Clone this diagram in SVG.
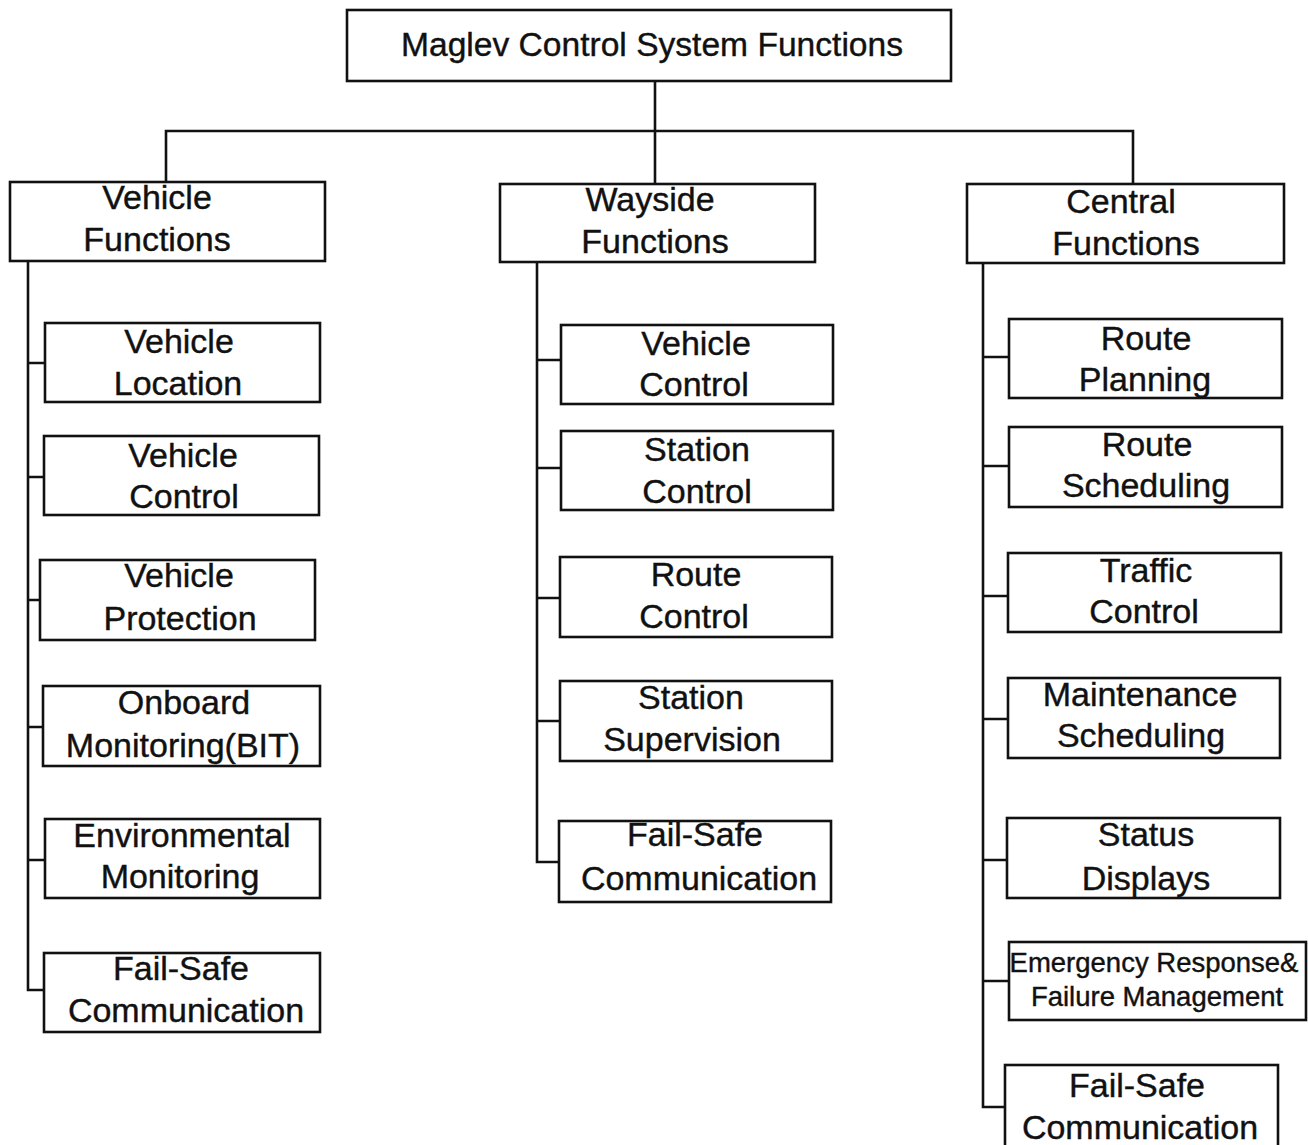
<svg xmlns="http://www.w3.org/2000/svg" width="1308" height="1145" viewBox="0 0 1308 1145">
  <style>
    .box { fill: #ffffff; stroke: #111111; stroke-width: 2.6; }
    .wire { fill: none; stroke: #111111; stroke-width: 2.6; }
    .lbl { font-family: "Liberation Sans", Arial, Helvetica, sans-serif; font-size: 34px; fill: #111111; stroke: #111111; stroke-width: 0.4; text-anchor: middle; }
    .title { font-size: 33.6px; }
    .small { font-size: 27.5px; }
  </style>
  <rect width="1308" height="1145" fill="#ffffff"/>

  <!-- connectors -->
  <g id="connectors">
    <!-- root to the three function groups -->
    <path class="wire" d="M655,81 V184 M166,182 V131 H1133 V184"/>
    <!-- vehicle column spine and stubs -->
    <path class="wire" d="M28,261 V990 H44 M28,363 H45 M28,477 H44 M28,600 H40 M28,727 H43 M28,860 H45"/>
    <!-- wayside column spine and stubs -->
    <path class="wire" d="M537,262 V862 H559 M537,360 H561 M537,468 H561 M537,598 H560 M537,721 H560"/>
    <!-- central column spine and stubs -->
    <path class="wire" d="M983,263 V1107 H1005 M983,357 H1009 M983,466 H1009 M983,596 H1008 M983,719 H1008 M983,860 H1007 M983,981 H1009"/>
  </g>

  <!-- root -->
  <g id="root">
    <rect class="box" x="347" y="10" width="604" height="71"/>
    <text class="lbl title" x="652" y="56">Maglev Control System Functions</text>
  </g>

  <!-- first level -->
  <g id="vehicle-functions">
    <rect class="box" x="10" y="182" width="315" height="79"/>
    <text class="lbl" x="157" y="209">Vehicle</text>
    <text class="lbl" x="157" y="251">Functions</text>
  </g>
  <g id="wayside-functions">
    <rect class="box" x="500" y="184" width="315" height="78"/>
    <text class="lbl" x="650" y="211">Wayside</text>
    <text class="lbl" x="655" y="253">Functions</text>
  </g>
  <g id="central-functions">
    <rect class="box" x="967" y="184" width="317" height="79"/>
    <text class="lbl" x="1121" y="213">Central</text>
    <text class="lbl" x="1126" y="255">Functions</text>
  </g>

  <!-- vehicle functions -->
  <g id="v-location">
    <rect class="box" x="45" y="323" width="275" height="79"/>
    <text class="lbl" x="179" y="353">Vehicle</text>
    <text class="lbl" x="178" y="395">Location</text>
  </g>
  <g id="v-control">
    <rect class="box" x="44" y="436" width="275" height="79"/>
    <text class="lbl" x="183" y="467">Vehicle</text>
    <text class="lbl" x="184" y="508">Control</text>
  </g>
  <g id="v-protection">
    <rect class="box" x="40" y="560" width="275" height="80"/>
    <text class="lbl" x="179" y="587">Vehicle</text>
    <text class="lbl" x="180" y="630">Protection</text>
  </g>
  <g id="v-onboard">
    <rect class="box" x="43" y="686" width="277" height="80"/>
    <text class="lbl" x="184" y="714">Onboard</text>
    <text class="lbl" x="183" y="757">Monitoring(BIT)</text>
  </g>
  <g id="v-environmental">
    <rect class="box" x="45" y="819" width="275" height="79"/>
    <text class="lbl" x="182" y="847">Environmental</text>
    <text class="lbl" x="180" y="888">Monitoring</text>
  </g>
  <g id="v-failsafe">
    <rect class="box" x="44" y="953" width="276" height="79"/>
    <text class="lbl" x="181" y="980">Fail-Safe</text>
    <text class="lbl" x="186" y="1022">Communication</text>
  </g>

  <!-- wayside functions -->
  <g id="w-vehicle-control">
    <rect class="box" x="561" y="325" width="272" height="79"/>
    <text class="lbl" x="696" y="355">Vehicle</text>
    <text class="lbl" x="694" y="396">Control</text>
  </g>
  <g id="w-station-control">
    <rect class="box" x="561" y="431" width="272" height="79"/>
    <text class="lbl" x="697" y="461">Station</text>
    <text class="lbl" x="697" y="503">Control</text>
  </g>
  <g id="w-route-control">
    <rect class="box" x="560" y="557" width="272" height="80"/>
    <text class="lbl" x="696" y="586">Route</text>
    <text class="lbl" x="694" y="628">Control</text>
  </g>
  <g id="w-station-supervision">
    <rect class="box" x="560" y="681" width="272" height="80"/>
    <text class="lbl" x="691" y="709">Station</text>
    <text class="lbl" x="692" y="751">Supervision</text>
  </g>
  <g id="w-failsafe">
    <rect class="box" x="559" y="821" width="272" height="81"/>
    <text class="lbl" x="695" y="846">Fail-Safe</text>
    <text class="lbl" x="699" y="890">Communication</text>
  </g>

  <!-- central functions -->
  <g id="c-route-planning">
    <rect class="box" x="1009" y="319" width="273" height="79"/>
    <text class="lbl" x="1146" y="350">Route</text>
    <text class="lbl" x="1145" y="391">Planning</text>
  </g>
  <g id="c-route-scheduling">
    <rect class="box" x="1009" y="427" width="273" height="80"/>
    <text class="lbl" x="1147" y="456">Route</text>
    <text class="lbl" x="1146" y="497">Scheduling</text>
  </g>
  <g id="c-traffic-control">
    <rect class="box" x="1008" y="553" width="273" height="79"/>
    <text class="lbl" x="1146" y="582">Traffic</text>
    <text class="lbl" x="1144" y="623">Control</text>
  </g>
  <g id="c-maintenance">
    <rect class="box" x="1008" y="678" width="272" height="80"/>
    <text class="lbl" x="1140" y="706">Maintenance</text>
    <text class="lbl" x="1141" y="747">Scheduling</text>
  </g>
  <g id="c-status">
    <rect class="box" x="1007" y="818" width="273" height="80"/>
    <text class="lbl" x="1146" y="846">Status</text>
    <text class="lbl" x="1146" y="890">Displays</text>
  </g>
  <g id="c-emergency">
    <rect class="box" x="1009" y="942" width="297" height="78"/>
    <text class="lbl small" x="1154" y="972">Emergency Response&amp;</text>
    <text class="lbl small" x="1157" y="1006">Failure Management</text>
  </g>
  <g id="c-failsafe">
    <rect class="box" x="1005" y="1065" width="273" height="84"/>
    <text class="lbl" x="1137" y="1097">Fail-Safe</text>
    <text class="lbl" x="1140" y="1139">Communication</text>
  </g>
</svg>
